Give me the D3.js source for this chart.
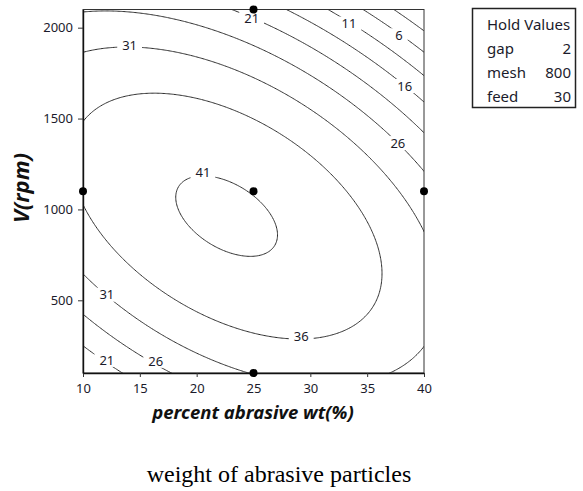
<!DOCTYPE html>
<html><head><meta charset="utf-8">
<script src="https://cdn.jsdelivr.net/npm/d3@7"></script>
<style>body{margin:0;background:#fff} svg{display:block}</style>
</head><body>
<script>
// ---- data ----
const xTicks = [10, 15, 20, 25, 30, 35, 40];
const yTicks = [500, 1000, 1500, 2000];
const contourLevels = [1, 6, 11, 16, 21, 26, 31, 36, 41];
// fitted quadratic response surface (coded units X=(wt-25)/15, Y=(V-1100)/1000)
// order: b0, bX, bY, bXX, bYY, bXY
const modelCoefs = [40.86, -4.2, -5.99, -8.62, -15.65, -10.84];
const designX = [10, 25, 40, 25, 25];
const designV = [1100, 1100, 1100, 100, 2100];
const labelLevels = [41, 36, 31, 31, 26, 26, 21, 21, 16, 11, 6];
const labelX = [20.55, 29.2, 14.1, 12.1, 37.7, 16.4, 24.84, 12.1, 38.3, 33.4, 37.8];
const labelV = [1202, 303, 1903, 531, 1365, 167, 2049, 172, 1679, 2022, 1958];
const holdNames = ["gap", "mesh", "feed"];
const holdValues = [2, 800, 30];
const xTitle = "percent abrasive wt(%)";
const yTitle = "V(rpm)";
const caption = "weight of abrasive particles";

// ---- layout ----
const W = 583, H = 491;
const x = d3.scaleLinear().domain([10, 40]).range([83, 424]);
const y = d3.scaleLinear().domain([100, 2100]).range([373, 9.5]);

const svg = d3.select("body").append("svg").attr("width", W).attr("height", H);
const defs = svg.append("defs");

function model(wt, v) {
  const X = (wt - 25) / 15, Y = (v - 1100) / 1000;
  const [b0, b1, b2, b11, b22, b12] = modelCoefs;
  return b0 + b1 * X + b2 * Y + b11 * X * X + b22 * Y * Y + b12 * X * Y;
}

// grid slightly larger than the plot area
const nx = 300, ny = 300;
const gx0 = 9, gx1 = 41, gy0 = 30, gy1 = 2170;
const dx = (gx1 - gx0) / (nx - 1), dy = (gy1 - gy0) / (ny - 1);
const values = new Array(nx * ny);
for (let j = 0; j < ny; j++) for (let i = 0; i < nx; i++)
  values[j * nx + i] = model(gx0 + i * dx, gy0 + j * dy);

const contours = d3.contours().size([nx, ny]).thresholds(contourLevels)(values);
const proj = d3.geoTransform({
  point: function (cx, cy) {
    this.stream.point(x(gx0 + (cx - 0.5) * dx), y(gy0 + (cy - 0.5) * dy));
  }
});
const pathGen = d3.geoPath(proj);

const labelFont = "'Noto Sans', sans-serif";
const labelSize = 13;

// masks per level: white plot area, black boxes where labels sit
contours.forEach(c => {
  const m = defs.append("mask").attr("id", "m" + c.value).attr("maskUnits", "userSpaceOnUse")
    .attr("x", 0).attr("y", 0).attr("width", W).attr("height", H);
  m.append("rect").attr("x", x(10)).attr("y", y(2100)).attr("width", x(40) - x(10))
    .attr("height", y(100) - y(2100)).attr("fill", "#fff");
  labelLevels.forEach((lv, k) => {
    if (lv !== c.value) return;
    const w = String(lv).length * 7.4 + 10;
    m.append("rect").attr("x", x(labelX[k]) - w / 2).attr("y", y(labelV[k]) - 7)
      .attr("width", w).attr("height", 14).attr("fill", "#000");
  });
});

svg.append("g").selectAll("path").data(contours).join("path")
  .attr("d", pathGen)
  .attr("fill", "none")
  .attr("stroke", "#2a2a2a")
  .attr("stroke-width", 1)
  .attr("mask", d => `url(#m${d.value})`);

// contour labels
svg.append("g").selectAll("text").data(labelLevels).join("text")
  .attr("x", (d, k) => x(labelX[k]))
  .attr("y", (d, k) => y(labelV[k]))
  .attr("dy", "0.36em")
  .attr("text-anchor", "middle")
  .style("font-family", labelFont).style("font-size", labelSize + "px")
  .attr("fill", "#1b1b2b")
  .text(d => d);

// frame
svg.append("rect").attr("x", x(10)).attr("y", y(2100)).attr("width", x(40) - x(10))
  .attr("height", y(100) - y(2100)).attr("fill", "none").attr("stroke", "#333").attr("stroke-width", 1);

// axes
const xAxis = svg.append("g").attr("transform", `translate(0,${y(100)})`)
  .call(d3.axisBottom(x).tickValues(xTicks).tickFormat(d3.format("d")).tickSize(4).tickPadding(7).tickSizeOuter(0));
const yAxis = svg.append("g").attr("transform", `translate(${x(10)},0)`)
  .call(d3.axisLeft(y).tickValues(yTicks).tickFormat(d3.format("d")).tickSize(5).tickPadding(5).tickSizeOuter(0));
[xAxis, yAxis].forEach(a => {
  a.selectAll("path.domain").attr("stroke", "#111").attr("stroke-width", 1.4);
  a.selectAll(".tick line").attr("stroke", "#333");
  a.selectAll("text").style("font-family", labelFont).style("font-size", "13px").attr("fill", "#1b1b2b");
});

// design points
svg.append("g").selectAll("circle").data(designX).join("circle")
  .attr("cx", d => x(d)).attr("cy", (d, k) => y(designV[k])).attr("r", 4).attr("fill", "#000");

// titles
svg.append("text").attr("x", 253).attr("y", 419).attr("text-anchor", "middle")
  .style("font-family", labelFont).style("font-size", "18.5px").style("font-weight", "bold")
  .style("font-style", "italic").attr("fill", "#111").text(xTitle);
svg.append("text").attr("transform", "translate(29,188) rotate(-90)").attr("text-anchor", "middle")
  .style("font-family", labelFont).style("font-size", "22px").style("font-weight", "bold")
  .style("font-style", "italic").attr("fill", "#111").text(yTitle);
svg.append("text").attr("x", 279).attr("y", 482).attr("text-anchor", "middle")
  .style("font-family", "'Liberation Serif', serif").style("font-size", "24px")
  .attr("fill", "#000").text(caption);

// hold values legend
const lg = svg.append("g");
lg.append("rect").attr("x", 472.5).attr("y", 8.5).attr("width", 103).attr("height", 99)
  .attr("fill", "#fff").attr("stroke", "#222").attr("stroke-width", 1.5);
lg.append("text").attr("x", 487).attr("y", 30).style("font-family", labelFont)
  .style("font-size", "15px").attr("fill", "#1b1b2b").text("Hold Values");
holdNames.forEach((n, k) => {
  lg.append("text").attr("x", 487).attr("y", 54 + k * 24).style("font-family", labelFont)
    .style("font-size", "15px").attr("fill", "#1b1b2b").text(n);
  lg.append("text").attr("x", 571).attr("y", 54 + k * 24).attr("text-anchor", "end")
    .style("font-family", labelFont).style("font-size", "15px").attr("fill", "#1b1b2b").text(holdValues[k]);
});
</script>
</body></html>
